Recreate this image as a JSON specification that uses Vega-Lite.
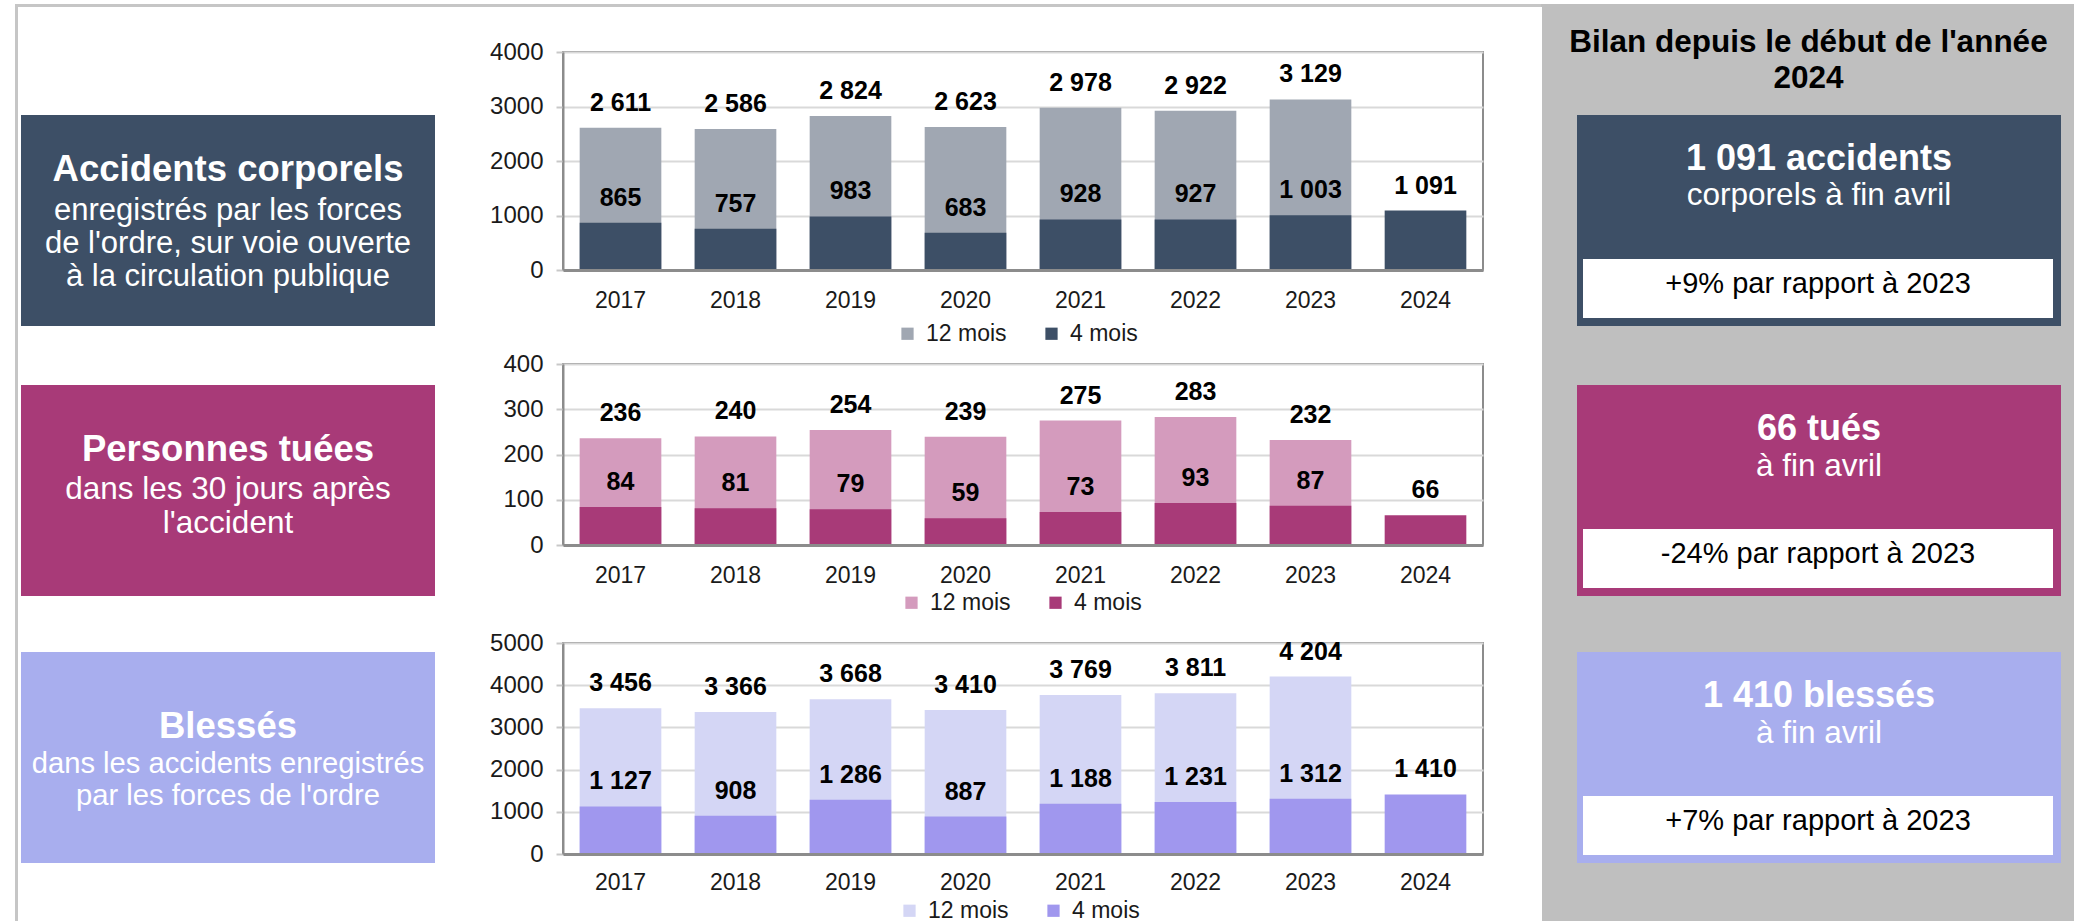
{
"$schema": "https://vega.github.io/schema/vega-lite/v6.json",
"padding": 0,
"background": "#ffffff",
"spacing": 0,
"bounds": "full",
"config": {
  "view": {"stroke": null},
  "font": "Liberation Sans",
  "locale": {"number": {"decimal": ",", "thousands": " ", "grouping": [3], "currency": ["", " €"]}},
  "concat": {"spacing": 0}
},
"datasets": {
  "acc": [
    {"year": "2017", "periode": "12 mois", "value": 2611},
    {"year": "2018", "periode": "12 mois", "value": 2586},
    {"year": "2019", "periode": "12 mois", "value": 2824},
    {"year": "2020", "periode": "12 mois", "value": 2623},
    {"year": "2021", "periode": "12 mois", "value": 2978},
    {"year": "2022", "periode": "12 mois", "value": 2922},
    {"year": "2023", "periode": "12 mois", "value": 3129},
    {"year": "2017", "periode": "4 mois", "value": 865},
    {"year": "2018", "periode": "4 mois", "value": 757},
    {"year": "2019", "periode": "4 mois", "value": 983},
    {"year": "2020", "periode": "4 mois", "value": 683},
    {"year": "2021", "periode": "4 mois", "value": 928},
    {"year": "2022", "periode": "4 mois", "value": 927},
    {"year": "2023", "periode": "4 mois", "value": 1003},
    {"year": "2024", "periode": "4 mois", "value": 1091}
  ],
  "tues": [
    {"year": "2017", "periode": "12 mois", "value": 236},
    {"year": "2018", "periode": "12 mois", "value": 240},
    {"year": "2019", "periode": "12 mois", "value": 254},
    {"year": "2020", "periode": "12 mois", "value": 239},
    {"year": "2021", "periode": "12 mois", "value": 275},
    {"year": "2022", "periode": "12 mois", "value": 283},
    {"year": "2023", "periode": "12 mois", "value": 232},
    {"year": "2017", "periode": "4 mois", "value": 84},
    {"year": "2018", "periode": "4 mois", "value": 81},
    {"year": "2019", "periode": "4 mois", "value": 79},
    {"year": "2020", "periode": "4 mois", "value": 59},
    {"year": "2021", "periode": "4 mois", "value": 73},
    {"year": "2022", "periode": "4 mois", "value": 93},
    {"year": "2023", "periode": "4 mois", "value": 87},
    {"year": "2024", "periode": "4 mois", "value": 66}
  ],
  "bles": [
    {"year": "2017", "periode": "12 mois", "value": 3456},
    {"year": "2018", "periode": "12 mois", "value": 3366},
    {"year": "2019", "periode": "12 mois", "value": 3668},
    {"year": "2020", "periode": "12 mois", "value": 3410},
    {"year": "2021", "periode": "12 mois", "value": 3769},
    {"year": "2022", "periode": "12 mois", "value": 3811},
    {"year": "2023", "periode": "12 mois", "value": 4204},
    {"year": "2017", "periode": "4 mois", "value": 1127},
    {"year": "2018", "periode": "4 mois", "value": 908},
    {"year": "2019", "periode": "4 mois", "value": 1286},
    {"year": "2020", "periode": "4 mois", "value": 887},
    {"year": "2021", "periode": "4 mois", "value": 1188},
    {"year": "2022", "periode": "4 mois", "value": 1231},
    {"year": "2023", "periode": "4 mois", "value": 1312},
    {"year": "2024", "periode": "4 mois", "value": 1410}
  ]
},
"vconcat": [
  {
    "spacing": 0, "bounds": "full",
    "vconcat": [
      {"width": 2074, "height": 4, "data": {"values": []}, "mark": "text"},
      {"spacing": 0, "bounds": "flush", "hconcat": [
        {"width": 15, "height": 3, "data": {"values": []}, "mark": "text"},
        {"width": 1526, "height": 3, "view": {"fill": "#c6c6c6", "stroke": null}, "data": {"values": []}, "mark": "text"},
        {"width": 533, "height": 3, "view": {"fill": "#bfbfbf", "stroke": null}, "data": {"values": []}, "mark": "text"}
      ]}
    ]
  },
  {
    "spacing": 0, "bounds": "full",
    "hconcat": [
      {"width": 15, "height": 914, "data": {"values": []}, "mark": "text"},
      {"width": 3, "height": 914, "view": {"fill": "#c6c6c6", "stroke": null}, "data": {"values": []}, "mark": "text"},
      {"width": 3, "height": 914, "data": {"values": []}, "mark": "text"},
      {
        "spacing": 0, "bounds": "flush",
        "vconcat": [
          {"width": 414, "height": 108, "data": {"values": []}, "mark": "text"},
          {
            "width": 414, "height": 211, "view": {"fill": "#3d4f66", "stroke": null},
            "data": {"values": [{"titre": "Accidents corporels", "detail": "enregistrés par les forces\nde l'ordre, sur voie ouverte\nà la circulation publique"}]},
            "layer": [
              {"mark": {"type": "text", "fontSize": 36.5, "fontWeight": "bold", "color": "#ffffff", "baseline": "alphabetic", "dy": -39.5}, "encoding": {"text": {"field": "titre", "type": "nominal"}}},
              {"mark": {"type": "text", "fontSize": 31, "color": "#ffffff", "baseline": "alphabetic", "dy": -0.5, "lineBreak": "\n", "lineHeight": 33}, "encoding": {"text": {"field": "detail", "type": "nominal"}}}
            ]
          },
          {"width": 414, "height": 59, "data": {"values": []}, "mark": "text"},
          {
            "width": 414, "height": 211, "view": {"fill": "#a83a78", "stroke": null},
            "data": {"values": [{"titre": "Personnes tuées", "detail": "dans les 30 jours après\nl'accident"}]},
            "layer": [
              {"mark": {"type": "text", "fontSize": 36.5, "fontWeight": "bold", "color": "#ffffff", "baseline": "alphabetic", "dy": -29.5}, "encoding": {"text": {"field": "titre", "type": "nominal"}}},
              {"mark": {"type": "text", "fontSize": 31.5, "color": "#ffffff", "baseline": "alphabetic", "dy": 8.5, "lineBreak": "\n", "lineHeight": 34}, "encoding": {"text": {"field": "detail", "type": "nominal"}}}
            ]
          },
          {"width": 414, "height": 56, "data": {"values": []}, "mark": "text"},
          {
            "width": 414, "height": 211, "view": {"fill": "#a8aeee", "stroke": null},
            "data": {"values": [{"titre": "Blessés", "detail": "dans les accidents enregistrés\npar les forces de l'ordre"}]},
            "layer": [
              {"mark": {"type": "text", "fontSize": 36.5, "fontWeight": "bold", "color": "#ffffff", "baseline": "alphabetic", "dy": -19.5}, "encoding": {"text": {"field": "titre", "type": "nominal"}}},
              {"mark": {"type": "text", "fontSize": 29.2, "color": "#ffffff", "baseline": "alphabetic", "dy": 15.5, "lineBreak": "\n", "lineHeight": 32}, "encoding": {"text": {"field": "detail", "type": "nominal"}}}
            ]
          },
          {"width": 414, "height": 58, "data": {"values": []}, "mark": "text"}
        ]
      },
      {
        "spacing": 0, "bounds": "flush",
        "resolve": {"scale": {"color": "independent"}, "legend": {"color": "independent"}},
        "vconcat": [
          {"width": 920, "height": 45, "data": {"values": []}, "mark": "text"},
          {
            "width": 920, "height": 218,
            "view": {"stroke": "#8c8c8c", "strokeWidth": 2},
            "data": {"name": "acc"},
            "encoding": {
              "x": {"field": "year", "type": "ordinal", "scale": {"paddingInner": 0.29, "paddingOuter": 0.145},
                    "axis": {"title": null, "labelAngle": 0, "ticks": false, "tickSize": 0, "domainColor": "#8c8c8c", "domainWidth": 3, "labelFontSize": 23, "labelColor": "#1a1a1a", "labelPadding": 19, "zindex": 1}},
              "y": {"field": "value", "type": "quantitative", "stack": null, "scale": {"domain": [0, 4000], "nice": false},
                    "axis": {"title": null, "values": [0, 1000, 2000, 3000, 4000], "format": "d", "gridColor": "#d9d9d9", "gridWidth": 2, "domainColor": "#8c8c8c", "domainWidth": 2, "tickSize": 7, "tickColor": "#c8c8c8", "tickWidth": 2, "labelFontSize": 24, "labelColor": "#1a1a1a", "labelPadding": 13, "minExtent": 127, "maxExtent": 127}}
            },
            "layer": [
              {"transform": [{"filter": "datum.periode === '12 mois'"}], "mark": "bar",
               "encoding": {"color": {"field": "periode", "type": "nominal", "scale": {"domain": ["12 mois", "4 mois"], "range": ["#a0a7b2", "#3d4f66"]},
                 "legend": {"orient": "none", "legendX": 333, "legendY": 270, "direction": "horizontal", "title": null, "symbolType": "square", "symbolSize": 150, "symbolStrokeWidth": 0, "labelFontSize": 23, "labelColor": "#1a1a1a", "labelOffset": 7, "columnPadding": 33}}}},
              {"transform": [{"filter": "datum.periode === '4 mois'"}], "mark": "bar",
               "encoding": {"color": {"field": "periode", "type": "nominal", "scale": {"domain": ["12 mois", "4 mois"], "range": ["#a0a7b2", "#3d4f66"]},
                 "legend": {"orient": "none", "legendX": 333, "legendY": 270, "direction": "horizontal", "title": null, "symbolType": "square", "symbolSize": 150, "symbolStrokeWidth": 0, "labelFontSize": 23, "labelColor": "#1a1a1a", "labelOffset": 7, "columnPadding": 33}}}},
              {"mark": {"type": "text", "dy": -17, "baseline": "alphabetic", "fontSize": 25, "fontWeight": "bold", "color": "#000000"},
               "encoding": {"text": {"field": "value", "type": "quantitative", "format": ",d"}}}
            ]
          },
          {"width": 920, "height": 94, "data": {"values": []}, "mark": "text"},
          {
            "width": 920, "height": 181,
            "view": {"stroke": "#8c8c8c", "strokeWidth": 2},
            "data": {"name": "tues"},
            "encoding": {
              "x": {"field": "year", "type": "ordinal", "scale": {"paddingInner": 0.29, "paddingOuter": 0.145},
                    "axis": {"title": null, "labelAngle": 0, "ticks": false, "tickSize": 0, "domainColor": "#8c8c8c", "domainWidth": 3, "labelFontSize": 23, "labelColor": "#1a1a1a", "labelPadding": 19, "zindex": 1}},
              "y": {"field": "value", "type": "quantitative", "stack": null, "scale": {"domain": [0, 400], "nice": false},
                    "axis": {"title": null, "values": [0, 100, 200, 300, 400], "format": "d", "gridColor": "#d9d9d9", "gridWidth": 2, "domainColor": "#8c8c8c", "domainWidth": 2, "tickSize": 7, "tickColor": "#c8c8c8", "tickWidth": 2, "labelFontSize": 24, "labelColor": "#1a1a1a", "labelPadding": 13, "minExtent": 127, "maxExtent": 127}}
            },
            "layer": [
              {"transform": [{"filter": "datum.periode === '12 mois'"}], "mark": "bar",
               "encoding": {"color": {"field": "periode", "type": "nominal", "scale": {"domain": ["12 mois", "4 mois"], "range": ["#d49bbd", "#a83a78"]},
                 "legend": {"orient": "none", "legendX": 337, "legendY": 227, "direction": "horizontal", "title": null, "symbolType": "square", "symbolSize": 150, "symbolStrokeWidth": 0, "labelFontSize": 23, "labelColor": "#1a1a1a", "labelOffset": 7, "columnPadding": 33}}}},
              {"transform": [{"filter": "datum.periode === '4 mois'"}], "mark": "bar",
               "encoding": {"color": {"field": "periode", "type": "nominal", "scale": {"domain": ["12 mois", "4 mois"], "range": ["#d49bbd", "#a83a78"]},
                 "legend": {"orient": "none", "legendX": 337, "legendY": 227, "direction": "horizontal", "title": null, "symbolType": "square", "symbolSize": 150, "symbolStrokeWidth": 0, "labelFontSize": 23, "labelColor": "#1a1a1a", "labelOffset": 7, "columnPadding": 33}}}},
              {"mark": {"type": "text", "dy": -17, "baseline": "alphabetic", "fontSize": 25, "fontWeight": "bold", "color": "#000000"},
               "encoding": {"text": {"field": "value", "type": "quantitative", "format": ",d"}}}
            ]
          },
          {"width": 920, "height": 98, "data": {"values": []}, "mark": "text"},
          {
            "width": 920, "height": 211,
            "view": {"stroke": "#8c8c8c", "strokeWidth": 2},
            "data": {"name": "bles"},
            "encoding": {
              "x": {"field": "year", "type": "ordinal", "scale": {"paddingInner": 0.29, "paddingOuter": 0.145},
                    "axis": {"title": null, "labelAngle": 0, "ticks": false, "tickSize": 0, "domainColor": "#8c8c8c", "domainWidth": 3, "labelFontSize": 23, "labelColor": "#1a1a1a", "labelPadding": 17, "zindex": 1}},
              "y": {"field": "value", "type": "quantitative", "stack": null, "scale": {"domain": [0, 5000], "nice": false},
                    "axis": {"title": null, "values": [0, 1000, 2000, 3000, 4000, 5000], "format": "d", "gridColor": "#d9d9d9", "gridWidth": 2, "domainColor": "#8c8c8c", "domainWidth": 2, "tickSize": 7, "tickColor": "#c8c8c8", "tickWidth": 2, "labelFontSize": 24, "labelColor": "#1a1a1a", "labelPadding": 13, "minExtent": 127, "maxExtent": 127}}
            },
            "layer": [
              {"transform": [{"filter": "datum.periode === '12 mois'"}], "mark": "bar",
               "encoding": {"color": {"field": "periode", "type": "nominal", "scale": {"domain": ["12 mois", "4 mois"], "range": ["#d4d6f5", "#a097ee"]},
                 "legend": {"orient": "none", "legendX": 335, "legendY": 256, "direction": "horizontal", "title": null, "symbolType": "square", "symbolSize": 150, "symbolStrokeWidth": 0, "labelFontSize": 23, "labelColor": "#1a1a1a", "labelOffset": 7, "columnPadding": 33}}}},
              {"transform": [{"filter": "datum.periode === '4 mois'"}], "mark": "bar",
               "encoding": {"color": {"field": "periode", "type": "nominal", "scale": {"domain": ["12 mois", "4 mois"], "range": ["#d4d6f5", "#a097ee"]},
                 "legend": {"orient": "none", "legendX": 335, "legendY": 256, "direction": "horizontal", "title": null, "symbolType": "square", "symbolSize": 150, "symbolStrokeWidth": 0, "labelFontSize": 23, "labelColor": "#1a1a1a", "labelOffset": 7, "columnPadding": 33}}}},
              {"mark": {"type": "text", "dy": -17, "baseline": "alphabetic", "fontSize": 25, "fontWeight": "bold", "color": "#000000"},
               "encoding": {"text": {"field": "value", "type": "quantitative", "format": ",d"}}}
            ]
          },
          {"width": 920, "height": 67, "data": {"values": []}, "mark": "text"}
        ]
      },
      {"width": 58, "height": 914, "data": {"values": []}, "mark": "text"},
      {
        "spacing": 0, "bounds": "full",
        "vconcat": [
          {"width": 533, "height": 108, "view": {"fill": "#bfbfbf", "stroke": null},
           "data": {"values": [{"titre": "Bilan depuis le début de l'année\n2024"}]},
           "mark": {"type": "text", "fontSize": 31.5, "fontWeight": "bold", "color": "#000000", "baseline": "alphabetic", "dy": -9, "lineBreak": "\n", "lineHeight": 36},
           "encoding": {"text": {"field": "titre", "type": "nominal"}}},
          {"spacing": 0, "bounds": "full", "hconcat": [
            {"width": 35, "height": 211, "view": {"fill": "#bfbfbf", "stroke": null}, "data": {"values": []}, "mark": "text"},
            {"spacing": 0, "bounds": "full", "vconcat": [
              {"width": 484, "height": 144, "view": {"fill": "#3d4f66", "stroke": null},
               "data": {"values": [{"chiffre": "1 091 accidents", "detail": "corporels à fin avril"}]},
               "layer": [
                 {"mark": {"type": "text", "fontSize": 36, "fontWeight": "bold", "color": "#ffffff", "baseline": "alphabetic", "dy": -17}, "encoding": {"text": {"field": "chiffre", "type": "nominal"}}},
                 {"mark": {"type": "text", "fontSize": 31.5, "color": "#ffffff", "baseline": "alphabetic", "dy": 17.5}, "encoding": {"text": {"field": "detail", "type": "nominal"}}}
               ]},
              {"spacing": 0, "bounds": "flush", "hconcat": [
                {"width": 6, "height": 59, "view": {"fill": "#3d4f66", "stroke": null}, "data": {"values": []}, "mark": "text"},
                {"width": 470, "height": 59, "view": {"fill": "#ffffff", "stroke": null},
                 "data": {"values": [{"evolution": "+9% par rapport à 2023"}]},
                 "mark": {"type": "text", "fontSize": 29, "color": "#000000", "baseline": "alphabetic", "dy": 4},
                 "encoding": {"text": {"field": "evolution", "type": "nominal"}}},
                {"width": 8, "height": 59, "view": {"fill": "#3d4f66", "stroke": null}, "data": {"values": []}, "mark": "text"}
              ]},
              {"width": 484, "height": 8, "view": {"fill": "#3d4f66", "stroke": null}, "data": {"values": []}, "mark": "text"}
            ]},
            {"width": 14, "height": 211, "view": {"fill": "#bfbfbf", "stroke": null}, "data": {"values": []}, "mark": "text"}
          ]},
          {"width": 533, "height": 59, "view": {"fill": "#bfbfbf", "stroke": null}, "data": {"values": []}, "mark": "text"},
          {"spacing": 0, "bounds": "full", "hconcat": [
            {"width": 35, "height": 211, "view": {"fill": "#bfbfbf", "stroke": null}, "data": {"values": []}, "mark": "text"},
            {"spacing": 0, "bounds": "full", "vconcat": [
              {"width": 484, "height": 144, "view": {"fill": "#a83a78", "stroke": null},
               "data": {"values": [{"chiffre": "66 tués", "detail": "à fin avril"}]},
               "layer": [
                 {"mark": {"type": "text", "fontSize": 36, "fontWeight": "bold", "color": "#ffffff", "baseline": "alphabetic", "dy": -17}, "encoding": {"text": {"field": "chiffre", "type": "nominal"}}},
                 {"mark": {"type": "text", "fontSize": 31.5, "color": "#ffffff", "baseline": "alphabetic", "dy": 19}, "encoding": {"text": {"field": "detail", "type": "nominal"}}}
               ]},
              {"spacing": 0, "bounds": "flush", "hconcat": [
                {"width": 6, "height": 59, "view": {"fill": "#a83a78", "stroke": null}, "data": {"values": []}, "mark": "text"},
                {"width": 470, "height": 59, "view": {"fill": "#ffffff", "stroke": null},
                 "data": {"values": [{"evolution": "-24% par rapport à 2023"}]},
                 "mark": {"type": "text", "fontSize": 29, "color": "#000000", "baseline": "alphabetic", "dy": 4},
                 "encoding": {"text": {"field": "evolution", "type": "nominal"}}},
                {"width": 8, "height": 59, "view": {"fill": "#a83a78", "stroke": null}, "data": {"values": []}, "mark": "text"}
              ]},
              {"width": 484, "height": 8, "view": {"fill": "#a83a78", "stroke": null}, "data": {"values": []}, "mark": "text"}
            ]},
            {"width": 14, "height": 211, "view": {"fill": "#bfbfbf", "stroke": null}, "data": {"values": []}, "mark": "text"}
          ]},
          {"width": 533, "height": 56, "view": {"fill": "#bfbfbf", "stroke": null}, "data": {"values": []}, "mark": "text"},
          {"spacing": 0, "bounds": "full", "hconcat": [
            {"width": 35, "height": 211, "view": {"fill": "#bfbfbf", "stroke": null}, "data": {"values": []}, "mark": "text"},
            {"spacing": 0, "bounds": "full", "vconcat": [
              {"width": 484, "height": 144, "view": {"fill": "#a8aeee", "stroke": null},
               "data": {"values": [{"chiffre": "1 410 blessés", "detail": "à fin avril"}]},
               "layer": [
                 {"mark": {"type": "text", "fontSize": 36, "fontWeight": "bold", "color": "#ffffff", "baseline": "alphabetic", "dy": -17}, "encoding": {"text": {"field": "chiffre", "type": "nominal"}}},
                 {"mark": {"type": "text", "fontSize": 31.5, "color": "#ffffff", "baseline": "alphabetic", "dy": 19}, "encoding": {"text": {"field": "detail", "type": "nominal"}}}
               ]},
              {"spacing": 0, "bounds": "flush", "hconcat": [
                {"width": 6, "height": 59, "view": {"fill": "#a8aeee", "stroke": null}, "data": {"values": []}, "mark": "text"},
                {"width": 470, "height": 59, "view": {"fill": "#ffffff", "stroke": null},
                 "data": {"values": [{"evolution": "+7% par rapport à 2023"}]},
                 "mark": {"type": "text", "fontSize": 29, "color": "#000000", "baseline": "alphabetic", "dy": 4},
                 "encoding": {"text": {"field": "evolution", "type": "nominal"}}},
                {"width": 8, "height": 59, "view": {"fill": "#a8aeee", "stroke": null}, "data": {"values": []}, "mark": "text"}
              ]},
              {"width": 484, "height": 8, "view": {"fill": "#a8aeee", "stroke": null}, "data": {"values": []}, "mark": "text"}
            ]},
            {"width": 14, "height": 211, "view": {"fill": "#bfbfbf", "stroke": null}, "data": {"values": []}, "mark": "text"}
          ]},
          {"width": 533, "height": 58, "view": {"fill": "#bfbfbf", "stroke": null}, "data": {"values": []}, "mark": "text"}
        ]
      }
    ]
  }
]
}
